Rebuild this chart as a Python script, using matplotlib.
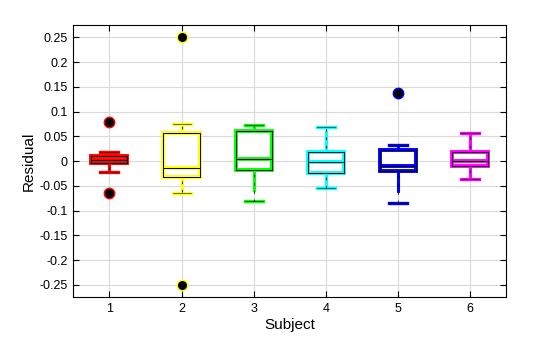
import matplotlib
matplotlib.use("Agg")
import matplotlib.pyplot as plt
from matplotlib.ticker import FormatStrFormatter

plt.rcParams['font.family'] = ['Liberation Sans', 'DejaVu Sans']

# box statistics
subjects = [1, 2, 3, 4, 5, 6]
colors = ['#ff0000', '#ffff00', '#00ff00', '#00ffff', '#0000ff', '#ff00ff']
medians = [0.003, -0.014, 0.004, -0.002, -0.009, 0.000]
q1 = [-0.004, -0.032, -0.018, -0.024, -0.021, -0.010]
q3 = [0.010, 0.056, 0.061, 0.018, 0.023, 0.019]
whislo = [-0.022, -0.064, -0.080, -0.054, -0.085, -0.036]
whishi = [0.018, 0.075, 0.073, 0.068, 0.032, 0.057]
outliers = [[0.079, -0.065], [0.25, -0.25], [], [], [0.138], []]

stats = []
for i in range(len(subjects)):
	stats.append(dict(med=medians[i], q1=q1[i], q3=q3[i],
					  whislo=whislo[i], whishi=whishi[i], fliers=outliers[i]))

fig = plt.figure(figsize=(5.6, 3.37), dpi=100)
ax = fig.add_axes([0.131, 0.118, 0.7726, 0.808])

for i in range(len(subjects)):
	c = colors[i]
	# coloured thick layer
	ax.bxp([stats[i]], positions=[subjects[i]], widths=0.5, patch_artist=True,
		   boxprops=dict(facecolor='white', edgecolor=c, linewidth=2.8),
		   medianprops=dict(color=c, linewidth=2.8),
		   whiskerprops=dict(color=c, linewidth=2.2, linestyle=(0, (7, 3))),
		   capprops=dict(color=c, linewidth=2.4),
		   flierprops=dict(marker='o', markerfacecolor='black', markeredgecolor=c,
						   markersize=7.5, markeredgewidth=1),
		   manage_ticks=False, zorder=3)
	# thin black layer on top
	ax.bxp([stats[i]], positions=[subjects[i]], widths=0.5, showfliers=False,
		   boxprops=dict(color='black', linewidth=0.7),
		   medianprops=dict(color='black', linewidth=0.7),
		   whiskerprops=dict(color='black', linewidth=0.6, linestyle=(5, (3, 7))),
		   capprops=dict(color='black', linewidth=0.4),
		   manage_ticks=False, zorder=4)

ax.set_xlim(0.5, 6.5)
ax.set_ylim(-0.275, 0.275)
ax.set_xticks(subjects)
ax.set_yticks([-0.25 + 0.05 * k for k in range(11)])
ax.yaxis.set_major_formatter(FormatStrFormatter('%g'))
ax.grid(True, color='#d9d9d9', linewidth=0.8)
ax.set_axisbelow(True)
ax.tick_params(direction='in', top=True, right=True, labelsize=9, length=4, pad=4)
for s in ax.spines.values():
	s.set_linewidth(0.8)
ax.set_xlabel('Subject', fontsize=11, labelpad=2)
ax.set_ylabel('Residual', fontsize=11, labelpad=3)

fig.savefig('out.png', dpi=100)
